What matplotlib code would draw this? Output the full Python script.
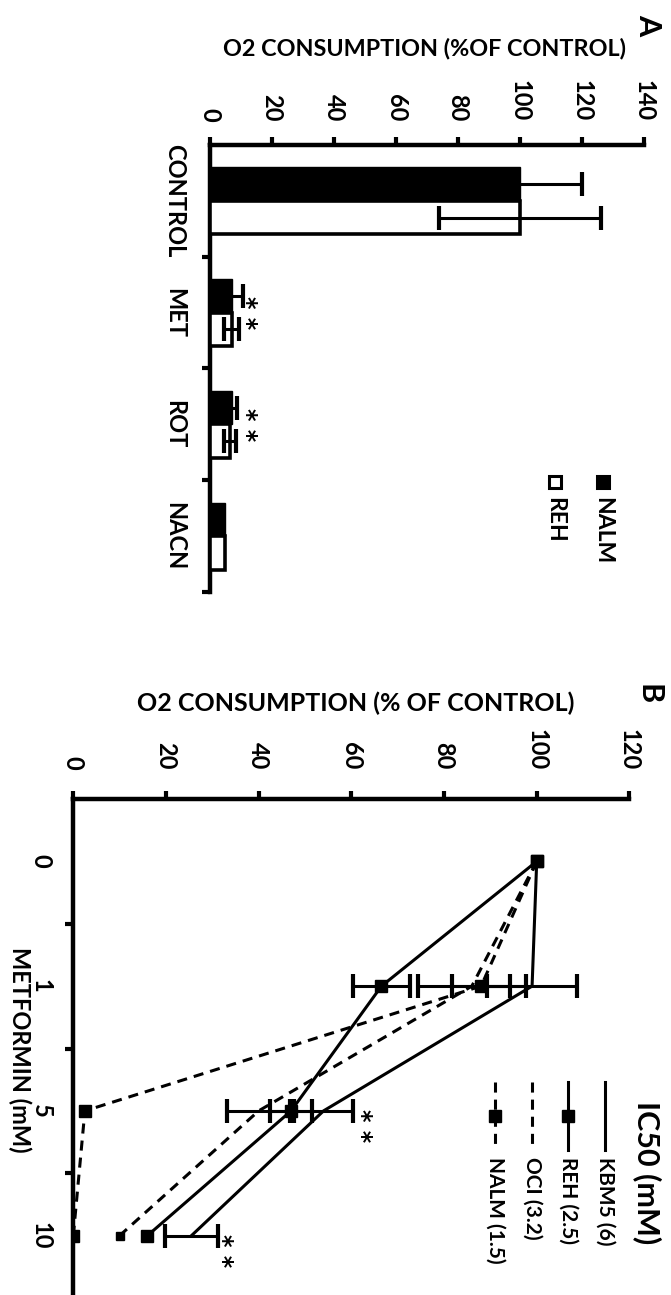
import matplotlib
matplotlib.use('Agg')
import matplotlib.pyplot as plt
from matplotlib.lines import Line2D
from matplotlib.patches import Rectangle
import numpy as np

W, H = 671, 1295
plt.rcParams['font.family'] = ['Lato', 'DejaVu Sans']
plt.rcParams['font.weight'] = 'bold'
plt.rcParams['axes.labelweight'] = 'bold'

# ---------------- data ----------------
categories_A = ['CONTROL', 'MET', 'ROT', 'NACN']
nalm_A = [100, 7, 7, 4.8]
nalm_A_err = [20, 3.5, 1.6, 0]
reh_A = [100, 7, 6.5, 4.8]
reh_A_err = [26, 2.5, 2, 0]
xticks_A = [0, 20, 40, 60, 80, 100, 120, 140]
sig_A = ['', '* *', '* *', '']

doses_B = ['0', '1', '5', '10']
kbm5_B = [100, 99, 54, 25.5]
kbm5_B_err = [0, 9.8, 6.3, 5.7]
reh_B = [100, 66.5, 47, 16]
reh_B_err = [0, 6.1, 4.5, 0]
oci_B = [100, 86, 40, 10]
oci_B_err = [0, 11.6, 6.8, 0]
nalm_B = [100, 88, 2.5, 0]
nalm_B_err = [0, 6.2, 0, 0]
xticks_B = [0, 20, 40, 60, 80, 100, 120]
sig_B = ['', '', '* *', '* *']
legend_B = ['KBM5 (6)', 'REH (2.5)', 'OCI (3.2)', 'NALM (1.5)']

fig = plt.figure(figsize=(W / 100, H / 100), dpi=100)


def fx(x):
    return x / W


def fy(y):
    return 1 - y / H


def errbars(ax, vals, pos, errs, lw=2.2):
    v = [a for a, e in zip(vals, errs) if e > 0]
    p = [b for b, e in zip(pos, errs) if e > 0]
    e = [e for e in errs if e > 0]
    if v:
        ax.errorbar(v, p, xerr=e, fmt='none', ecolor='black', elinewidth=lw,
                    capsize=8.5, capthick=3, zorder=4)


STAR_FONT = dict(family='DejaVu Sans', fontsize=17, fontweight='bold')
SPW = 3.2
# ---------------- Panel A ----------------
axA = fig.add_axes([fx(210), fy(592), fx(644) - fx(210), fy(145) - fy(592)])
idx = np.arange(len(categories_A))
bh = 0.3
axA.barh(idx - bh / 2, nalm_A, height=bh, color='black', edgecolor='black', linewidth=1, zorder=3)
axA.barh(idx + bh / 2, reh_A, height=bh, color='white', edgecolor='black', linewidth=2.6, zorder=3)
errbars(axA, nalm_A, idx - bh / 2, nalm_A_err)
errbars(axA, reh_A, idx + bh / 2, reh_A_err)
for i, s in enumerate(sig_A):
    if s:
        axA.text(11.5, i, s, rotation=-90, ha='center', va='center', **STAR_FONT)

axA.set_xlim(0, 140)
axA.set_ylim(3.5, -0.5)
for sp in ['right', 'bottom']:
    axA.spines[sp].set_visible(False)
for sp in ['top', 'left']:
    axA.spines[sp].set_linewidth(SPW)
axA.xaxis.tick_top()
axA.set_xticks(xticks_A)
axA.tick_params(axis='x', direction='out', length=6, width=3, pad=11, labelsize=17, labelrotation=-90)
axA.set_yticks(idx)
axA.set_yticklabels(categories_A)
axA.set_yticks(idx + 0.5, minor=True)
axA.tick_params(axis='y', which='major', length=0, pad=17, labelsize=17, labelrotation=-90)
axA.tick_params(axis='y', which='minor', direction='out', length=6, width=3)
for lab in axA.get_yticklabels() + axA.get_xticklabels():
    lab.set_fontweight('bold')
for lab in axA.get_yticklabels():
    lab.set_va('center')
axA.xaxis.set_label_position('top')
axA.set_xlabel('O2 CONSUMPTION (%OF CONTROL)', fontsize=16.8, fontweight='bold')
axA.xaxis.set_label_coords(0.495, 1.215)
axA.xaxis.label.set_va('center')

# legend A
for (cx, face, name) in [(603, 'black', 'NALM'), (555, 'white', 'REH')]:
    fig.add_artist(Rectangle((fx(cx - 6), fy(488)), fx(12), fy(476) - fy(488),
                             facecolor=face, edgecolor='black', linewidth=2.2,
                             transform=fig.transFigure))
    fig.text(fx(cx), fy(497), name, rotation=-90, ha='center', va='top', fontsize=16.5,
             fontweight='bold')

fig.text(fx(648), fy(25), 'A', rotation=-90, ha='center', va='center', fontsize=22,
         fontweight='bold')

# ---------------- Panel B ----------------
axB = fig.add_axes([fx(73.3), fy(1298), fx(629.4) - fx(73.3), fy(799) - fy(1298)])
pos = np.arange(len(doses_B))
LW = 2.2
dash = (3.3, 2.3)
axB.plot(kbm5_B, pos, color='black', lw=LW, zorder=3)
axB.plot(reh_B, pos, color='black', lw=LW, marker='s', ms=9, zorder=3)
axB.plot(oci_B, pos, color='black', lw=LW, ls=(0, dash), marker='s', ms=6,
         markevery=[3], zorder=3)
axB.plot(nalm_B, pos, color='black', lw=LW, ls=(0, dash), marker='s', ms=9, zorder=3)
errbars(axB, kbm5_B, pos, kbm5_B_err)
errbars(axB, reh_B, pos, reh_B_err)
errbars(axB, oci_B, pos, oci_B_err)
errbars(axB, nalm_B, pos, nalm_B_err)
sig_x = [0, 0, 62, 32]
for i, s in enumerate(sig_B):
    if s:
        axB.text(sig_x[i], i + 0.12, s, rotation=-90, ha='center', va='center', **STAR_FONT)

axB.set_xlim(0, 120)
axB.set_ylim(3.5, -0.5)
for sp in ['right', 'bottom']:
    axB.spines[sp].set_visible(False)
for sp in ['top', 'left']:
    axB.spines[sp].set_linewidth(SPW)
axB.xaxis.tick_top()
axB.set_xticks(xticks_B)
axB.tick_params(axis='x', direction='out', length=6, width=3, pad=15, labelsize=17, labelrotation=-90)
axB.set_yticks(pos)
axB.set_yticklabels(doses_B)
axB.set_yticks(pos + 0.5, minor=True)
axB.tick_params(axis='y', which='major', length=0, pad=15, labelsize=17, labelrotation=-90)
axB.tick_params(axis='y', which='minor', direction='out', length=6, width=3)
for lab in axB.get_yticklabels() + axB.get_xticklabels():
    lab.set_fontweight('bold')
for lab in axB.get_yticklabels():
    lab.set_va('center')
axB.xaxis.set_label_position('top')
axB.set_xlabel('O2 CONSUMPTION (% OF CONTROL)', fontsize=18, fontweight='bold')
axB.xaxis.set_label_coords(0.507, 1.192)
axB.xaxis.label.set_va('center')
axB.set_ylabel('METFORMIN (mM)', fontsize=17, rotation=-90, fontweight='bold')
axB.yaxis.set_label_coords(-0.097, 0.497)
axB.yaxis.label.set_va('center')

# legend B
styles = [dict(ls='-', marker=None), dict(ls='-', marker='s'),
          dict(ls=(0, dash), marker=None), dict(ls=(0, dash), marker='s')]
for lx, st, name in zip([605, 568, 532, 495], styles, legend_B):
    fig.add_artist(Line2D([fx(lx), fx(lx)], [fy(1082), fy(1150)], color='black', lw=LW,
                          ls=st['ls'], transform=fig.transFigure))
    if st['marker']:
        fig.add_artist(Line2D([fx(lx)], [fy(1116)], color='black', marker='s', ms=9,
                              transform=fig.transFigure))
    fig.text(fx(lx), fy(1157), name, rotation=-90, ha='center', va='top', fontsize=15,
             fontweight='bold')
fig.text(fx(647), fy(1173), 'IC50 (mM)', rotation=-90, ha='center', va='center', fontsize=22,
         fontweight='bold')
fig.text(fx(648), fy(694), 'B', rotation=-90, ha='center', va='center', fontsize=22,
         fontweight='bold')

fig.savefig('out.png', dpi=100)
